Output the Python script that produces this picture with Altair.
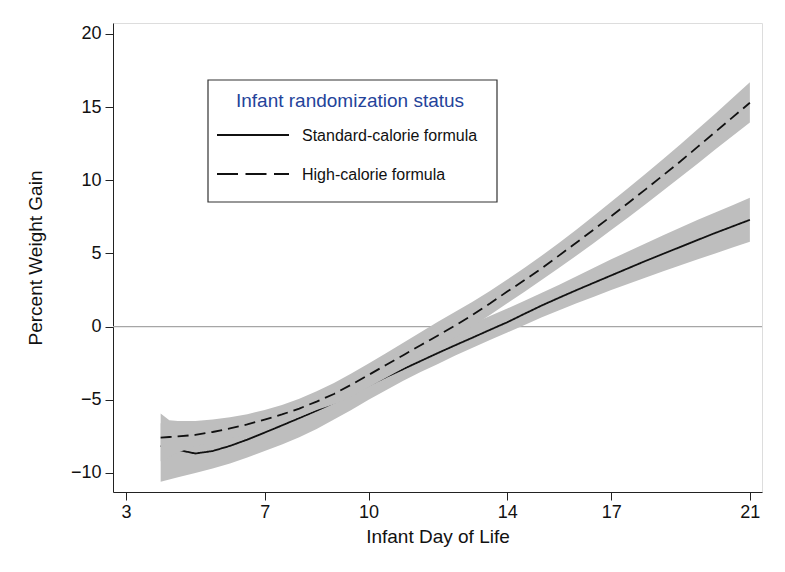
import altair as alt
import pandas as pd

# ---- data ----
days = [4.0, 4.25, 4.5, 5.0, 5.5, 6.0, 6.5, 7.0, 7.5, 8.0, 8.5, 9.0, 9.5, 10.0, 10.5,
        11.0, 11.5, 12.0, 12.5, 13.0, 13.5, 14.0, 14.5, 15.0, 15.5, 16.0, 16.5, 17.0,
        17.5, 18.0, 18.5, 19.0, 19.5, 20.0, 20.5, 21.0]

std_mean = [-8.15, -8.3, -8.42, -8.67, -8.5, -8.15, -7.72, -7.24, -6.75, -6.25, -5.74,
            -5.2, -4.62, -4.02, -3.45, -2.9, -2.35, -1.8, -1.27, -0.75, -0.22, 0.3, 0.88,
            1.45, 1.98, 2.5, 3.0, 3.5, 4.0, 4.5, 4.98, 5.45, 5.93, 6.4, 6.85, 7.3]
std_lo = [-10.6, -10.45, -10.3, -10.0, -9.7, -9.35, -8.95, -8.5, -8.05, -7.55, -7.0,
          -6.35, -5.7, -5.0, -4.35, -3.7, -3.1, -2.55, -1.98, -1.45, -0.92, -0.4, 0.12,
          0.65, 1.12, 1.6, 2.05, 2.5, 2.93, 3.35, 3.78, 4.2, 4.6, 5.0, 5.4, 5.8]
std_hi = [-6.6, -6.75, -6.9, -7.2, -7.2, -7.0, -6.6, -6.1, -5.6, -5.1, -4.6, -4.1,
          -3.55, -3.0, -2.45, -1.9, -1.35, -0.8, -0.28, 0.22, 0.73, 1.24, 1.77, 2.31,
          2.87, 3.45, 4.03, 4.6, 5.15, 5.7, 6.25, 6.77, 7.3, 7.8, 8.3, 8.8]

high_mean = [-7.58, -7.54, -7.5, -7.4, -7.2, -6.95, -6.68, -6.35, -6.0, -5.6, -5.12,
             -4.6, -3.97, -3.3, -2.62, -1.95, -1.27, -0.6, 0.08, 0.8, 1.58, 2.4, 3.18,
             4.0, 4.87, 5.75, 6.64, 7.55, 8.47, 9.4, 10.35, 11.3, 12.3, 13.3, 14.3, 15.3]
high_lo = [-9.2, -8.9, -8.6, -8.15, -7.9, -7.65, -7.35, -6.95, -6.6, -6.18, -5.7, -5.3,
           -4.8, -4.15, -3.5, -2.85, -2.15, -1.45, -0.72, 0.02, 0.8, 1.6, 2.39, 3.2,
           4.02, 4.86, 5.72, 6.6, 7.48, 8.38, 9.3, 10.22, 11.15, 12.1, 13.03, 13.95]
high_hi = [-5.94, -6.4, -6.45, -6.45, -6.35, -6.2, -5.98, -5.7, -5.35, -4.92, -4.42,
           -3.85, -3.2, -2.52, -1.82, -1.1, -0.38, 0.34, 1.02, 1.7, 2.44, 3.22, 4.03,
           4.87, 5.74, 6.64, 7.58, 8.53, 9.49, 10.46, 11.45, 12.46, 13.5, 14.55, 15.62,
           16.7]

x_ticks = [3, 7, 10, 14, 17, 21]
y_ticks = [-10, -5, 0, 5, 10, 15, 20]
legend_title = "Infant randomization status"
series_labels = ["Standard-calorie formula", "High-calorie formula"]

FONT = "Liberation Sans"
BAND = "#bebebe"
W, H = 649, 469

std_df = pd.DataFrame({"day": days, "mean": std_mean, "lo": std_lo, "hi": std_hi})
high_df = pd.DataFrame({"day": days, "mean": high_mean, "lo": high_lo, "hi": high_hi})

xscale = alt.Scale(domain=[2.625, 21.35], nice=False, zero=False)
yscale = alt.Scale(domain=[-11.3, 20.75], nice=False, zero=False)

xaxis = alt.Axis(values=x_ticks, grid=False, tickSize=8, labelFontSize=18,
                 titleFontSize=19, labelFont=FONT, titleFont=FONT, titleFontWeight="normal",
                 domainColor="#222", tickColor="#222", labelColor="#111", titleColor="#111",
                 labelPadding=3, titleY=44, titleBaseline="middle", labelFlush=False)
yaxis = alt.Axis(values=y_ticks, grid=False, tickSize=8, labelFontSize=18,
                 titleFontSize=19, labelFont=FONT, titleFont=FONT, titleFontWeight="normal",
                 domainColor="#222", tickColor="#222", labelColor="#111", titleColor="#111",
                 labelPadding=4, titleX=-78, titleY=H / 2, titleAngle=-90,
                 titleBaseline="middle", labelFlush=False)

x_enc = alt.X("day:Q", scale=xscale, axis=xaxis, title="Infant Day of Life")

zero = alt.Chart(pd.DataFrame({"y": [0]})).mark_rule(color="#a6a6a6", strokeWidth=1.2).encode(
    y=alt.Y("y:Q", scale=yscale, axis=yaxis, title="Percent Weight Gain"),
    x=alt.value(0), x2=alt.value(W))

def band(df):
    return alt.Chart(df).mark_area(color=BAND, opacity=1).encode(
        x=x_enc, y=alt.Y("lo:Q", scale=yscale, axis=yaxis, title="Percent Weight Gain"),
        y2="hi:Q")

def line(df, dash):
    return alt.Chart(df).mark_line(color="#111", strokeWidth=1.8, strokeDash=dash).encode(
        x=x_enc, y=alt.Y("mean:Q", scale=yscale, axis=yaxis, title="Percent Weight Gain"))

one = pd.DataFrame({"a": [0]})
box = alt.Chart(one).mark_rect(fill="white", stroke="#333", strokeWidth=1.2).encode(
    x=alt.value(95), x2=alt.value(384), y=alt.value(57), y2=alt.value(179))
ltitle = alt.Chart(one).mark_text(font=FONT, fontSize=19, color="#24439a", align="center",
                                  baseline="alphabetic").encode(
    x=alt.value(237), y=alt.value(84), text=alt.value(legend_title))
l1 = alt.Chart(one).mark_rule(color="#111", strokeWidth=1.8).encode(
    x=alt.value(104), x2=alt.value(176), y=alt.value(112))
l2 = alt.Chart(one).mark_rule(color="#111", strokeWidth=1.8, strokeDash=[21, 7.5]).encode(
    x=alt.value(104), x2=alt.value(176), y=alt.value(151))
t1 = alt.Chart(one).mark_text(font=FONT, fontSize=16, color="#111", align="left",
                              baseline="alphabetic").encode(
    x=alt.value(189), y=alt.value(118), text=alt.value(series_labels[0]))
t2 = alt.Chart(one).mark_text(font=FONT, fontSize=16, color="#111", align="left",
                              baseline="alphabetic").encode(
    x=alt.value(189), y=alt.value(157), text=alt.value(series_labels[1]))

chart = alt.layer(
    zero,
    band(std_df), line(std_df, [1, 0]),
    band(high_df), line(high_df, [11, 6]),
    box, ltitle, l1, l2, t1, t2,
).properties(
    width=W, height=H,
    autosize=alt.AutoSizeParams(type="none"),
    padding={"left": 105, "top": 15, "right": 15, "bottom": 72},
).configure_view(stroke=None).configure(background="white")

chart.save("out.html", embed_options={"renderer": "svg", "actions": False})
